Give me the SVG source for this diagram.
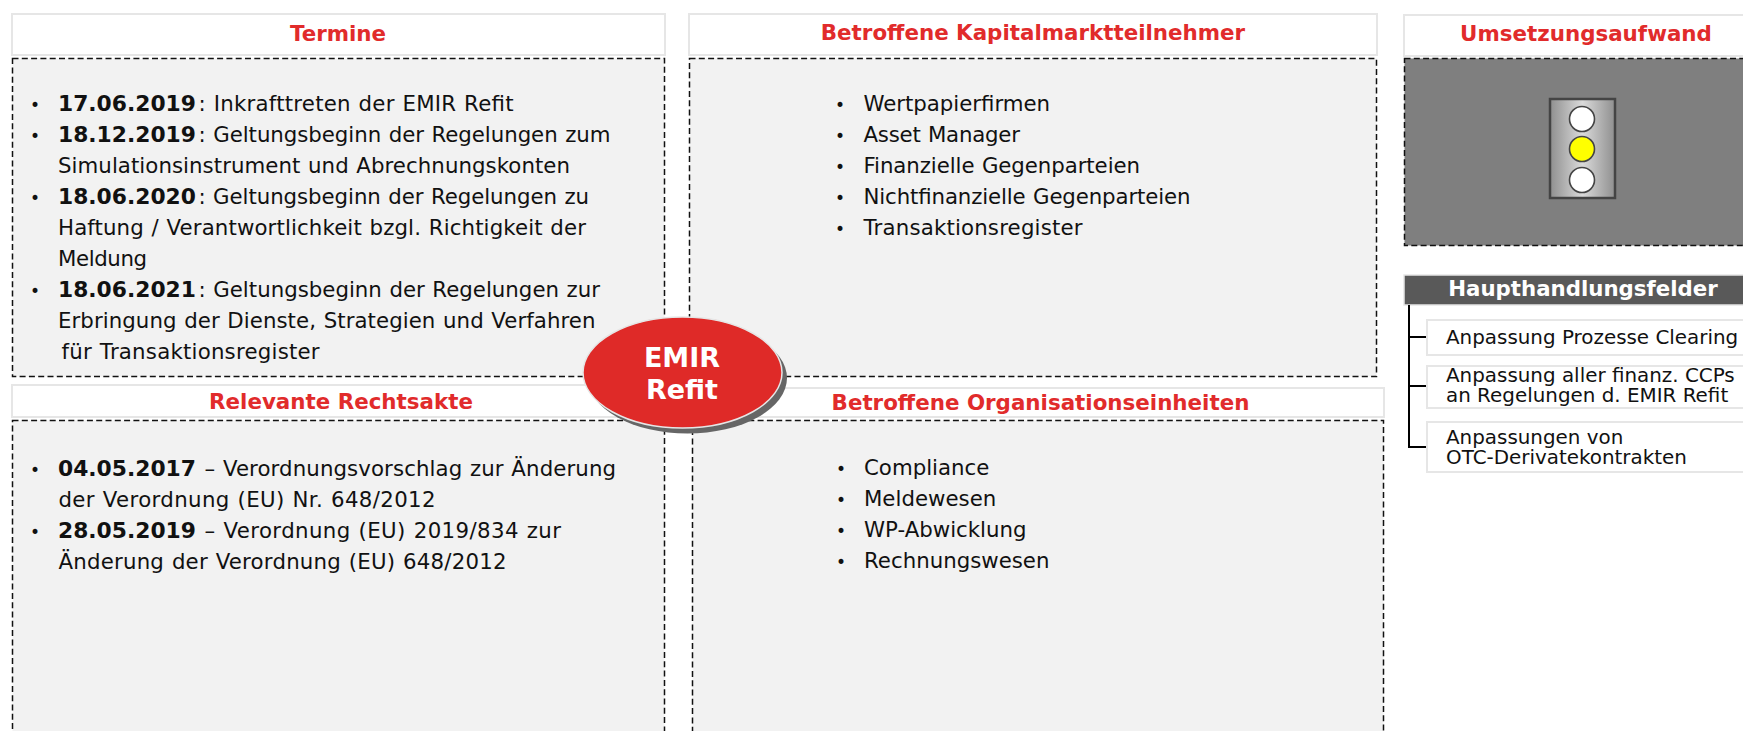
<svg xmlns="http://www.w3.org/2000/svg" width="1743" height="731" viewBox="0 0 1743 731">
<style>
text{font-family:"DejaVu Sans",Verdana,sans-serif;fill:#111}
.h{fill:#fff;stroke:#E6E6E6;stroke-width:2}
.b{fill:#F2F2F2;stroke:#111;stroke-width:1.5;stroke-dasharray:6 3.3}
.t{font-size:21.4px;font-weight:700;fill:#E12B2B;text-anchor:middle}
.x{font-size:21.3px;word-spacing:.8px}
.x tspan.d{font-weight:700;font-size:21.8px}
.u{font-size:17px}
.s{font-size:19.9px}
.w{fill:#fff;stroke:#E6E6E6;stroke-width:2}
.c{fill:none;stroke:#000;stroke-width:2}
.l{stroke:#444;stroke-width:1.6;fill:#fff}
</style>
<defs>
<linearGradient id="g" x1="0" x2="1" y1="0" y2="0"><stop offset="0" stop-color="#8F8F8F"/><stop offset=".5" stop-color="#DADADA"/><stop offset="1" stop-color="#8F8F8F"/></linearGradient>
</defs>
<g id="termine">
<rect class="h" x="12" y="14" width="653" height="41"/>
<rect class="b" x="12.5" y="58.5" width="652" height="318"/>
<text class="t" x="338" y="41">Termine</text>
<text class="u" x="30" y="111">•</text><text class="x" x="58" y="111"><tspan class="d">17.06.2019</tspan><tspan x="198.5" textLength="315">: Inkrafttreten der EMIR Refit</tspan></text>
<text class="u" x="30" y="142">•</text><text class="x" x="58" y="142"><tspan class="d">18.12.2019</tspan><tspan x="198.5" textLength="412">: Geltungsbeginn der Regelungen zum</tspan></text>
<text class="x" x="58" y="173" textLength="512">Simulationsinstrument und Abrechnungskonten</text>
<text class="u" x="30" y="204">•</text><text class="x" x="58" y="204"><tspan class="d">18.06.2020</tspan><tspan x="198.5" textLength="390.5">: Geltungsbeginn der Regelungen zu</tspan></text>
<text class="x" x="58" y="235" textLength="528">Haftung / Verantwortlichkeit bzgl. Richtigkeit der</text>
<text class="x" x="58" y="266" textLength="89">Meldung</text>
<text class="u" x="30" y="297">•</text><text class="x" x="58" y="297"><tspan class="d">18.06.2021</tspan><tspan x="198.5" textLength="401.5">: Geltungsbeginn der Regelungen zur</tspan></text>
<text class="x" x="58" y="328" textLength="537.5">Erbringung der Dienste, Strategien und Verfahren</text>
<text class="x" x="61.6" y="359" textLength="258">für Transaktionsregister</text>
</g>
<g id="kapitalmarkt">
<rect class="h" x="689" y="14" width="688" height="41"/>
<rect class="b" x="689.5" y="58.5" width="687" height="318"/>
<text class="t" x="1033" y="40">Betroffene Kapitalmarktteilnehmer</text>
<text class="u" x="835" y="111">•</text><text class="x" x="863.5" y="111" textLength="186.5">Wertpapierfirmen</text>
<text class="u" x="835" y="142">•</text><text class="x" x="863.5" y="142" textLength="156.5">Asset Manager</text>
<text class="u" x="835" y="173">•</text><text class="x" x="863.5" y="173" textLength="276.5">Finanzielle Gegenparteien</text>
<text class="u" x="835" y="204">•</text><text class="x" x="863.5" y="204" textLength="327">Nichtfinanzielle Gegenparteien</text>
<text class="u" x="835" y="235">•</text><text class="x" x="863.5" y="235" textLength="219">Transaktionsregister</text>
</g>
<g id="rechtsakte">
<rect class="h" x="12" y="385" width="653" height="32"/>
<rect class="b" x="12.5" y="420.5" width="652" height="330"/>
<text class="t" x="341" y="409">Relevante Rechtsakte</text>
<text class="u" x="30" y="476">•</text><text class="x" x="58" y="476"><tspan class="d">04.05.2017</tspan> <tspan x="204.5" textLength="411.5">– Verordnungsvorschlag zur Änderung</tspan></text>
<text class="x" x="58.5" y="507" textLength="377">der Verordnung (EU) Nr. 648/2012</text>
<text class="u" x="30" y="538">•</text><text class="x" x="58" y="538"><tspan class="d">28.05.2019</tspan> <tspan x="204.5" textLength="356.5">– Verordnung (EU) 2019/834 zur</tspan></text>
<text class="x" x="58.5" y="569" textLength="448">Änderung der Verordnung (EU) 648/2012</text>
</g>
<g id="organisationseinheiten">
<rect class="h" x="692" y="388" width="692" height="29"/>
<rect class="b" x="692.5" y="420.5" width="691" height="330"/>
<text class="t" x="1040.5" y="410">Betroffene Organisationseinheiten</text>
<text class="u" x="836" y="475">•</text><text class="x" x="864" y="475">Compliance</text>
<text class="u" x="836" y="506">•</text><text class="x" x="864" y="506">Meldewesen</text>
<text class="u" x="836" y="537">•</text><text class="x" x="864" y="537">WP-Abwicklung</text>
<text class="u" x="836" y="568">•</text><text class="x" x="864" y="568">Rechnungswesen</text>
</g>
<g id="umsetzungsaufwand">
<rect class="h" x="1404" y="15" width="350" height="41"/>
<rect x="1404.5" y="58.5" width="350" height="187" fill="#7F7F7F" stroke="#111" stroke-width="1.5" stroke-dasharray="6 3.3"/>
<text class="t" x="1586" y="41">Umsetzungsaufwand</text>
<rect x="1550" y="99" width="65" height="99" fill="url(#g)" stroke="#444" stroke-width="2.5"/>
<circle class="l" cx="1582" cy="119" r="12.5"/>
<circle class="l" cx="1582" cy="149" r="12.5" style="fill:#FFFF00"/>
<circle class="l" cx="1582" cy="180" r="12.5"/>
</g>
<g id="haupthandlungsfelder">
<rect x="1404" y="275" width="350" height="30" fill="#595959" stroke="#E6E6E6" stroke-width="1.5"/>
<text x="1583" y="296" text-anchor="middle" style="font-size:21.3px;font-weight:700;fill:#fff">Haupthandlungsfelder</text>
</g>
<g id="connectors">
<path class="c" d="M1409 305V447H1427M1409 337H1427M1409 386H1427"/>
</g>
<g id="feld1">
<rect class="w" x="1427" y="320" width="330" height="35"/>
<text class="s" x="1446" y="344">Anpassung Prozesse Clearing</text>
</g>
<g id="feld2">
<rect class="w" x="1427" y="366" width="330" height="42"/>
<text class="s" x="1446" y="382">Anpassung aller finanz. CCPs</text>
<text class="s" x="1446" y="402">an Regelungen d. EMIR Refit</text>
</g>
<g id="feld3">
<rect class="w" x="1427" y="422" width="330" height="50"/>
<text class="s" x="1446" y="444">Anpassungen von</text>
<text class="s" x="1446" y="464">OTC-Derivatekontrakten</text>
</g>
<g id="emir">
<ellipse cx="687.5" cy="378" rx="99.5" ry="55.5" fill="#666"/>
<ellipse cx="682.5" cy="372.5" rx="99.5" ry="55.5" fill="#DF2A28" stroke="#E6E6E6" stroke-width="1.5"/>
<text x="682" y="367" text-anchor="middle" style="font-size:27px;font-weight:700;fill:#fff">EMIR</text>
<text x="682" y="399" text-anchor="middle" style="font-size:27px;font-weight:700;fill:#fff">Refit</text>
</g>
</svg>
